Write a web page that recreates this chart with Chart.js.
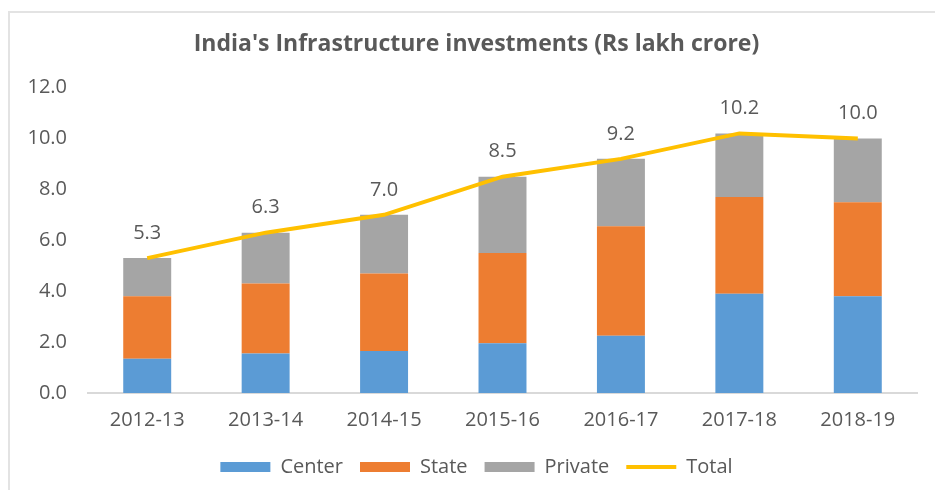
<!DOCTYPE html>
<html>
<head>
<meta charset="utf-8">
<script src="https://cdn.jsdelivr.net/npm/chart.js@4.4.1/dist/chart.umd.min.js"></script>
<style>
  html, body { margin: 0; padding: 0; background: #fff; }
  #frame {
    position: absolute; left: 8px; top: 11px; width: 940px; height: 490px;
    border-left: 2px solid #e3e3e3; border-top: 2px solid #e3e3e3;
  }
  #wrap { position: absolute; left: 0; top: 0; width: 935px; height: 490px; }
</style>
</head>
<body>
<div id="frame"></div>
<div id="wrap"><canvas id="chartInfra"></canvas></div>
<script>
// valores (Rs lakh crore)
const years = ['2012-13', '2013-14', '2014-15', '2015-16', '2016-17', '2017-18', '2018-19'];
const center = [1.35, 1.55, 1.65, 1.95, 2.25, 3.9, 3.8];
const state = [2.45, 2.75, 3.05, 3.55, 4.3, 3.8, 3.7];
const privateInv = [1.5, 2.0, 2.3, 3.0, 2.65, 2.5, 2.5];
const total = [5.3, 6.3, 7.0, 8.5, 9.2, 10.2, 10.0];
const yTicks = [0, 2, 4, 6, 8, 10, 12];

const gris = '#595959';
const fuente = '"Open Sans", Lato, sans-serif';

// etiquetas de los totales encima de la linea
const etiquetasTotal = {
    id: 'etiquetasTotal',
    beforeDraw(chart) {
        // titulo y leyenda estan un poco a la derecha del centro en el original
        if (!chart._movido) {
            if (chart.titleBlock) chart.titleBlock.left += 16;
            if (chart.legend) chart.legend.left += 16;
            chart._movido = true;
        }
    },
    afterDatasetsDraw(chart) {
        const ctx = chart.ctx;
        const meta = chart.getDatasetMeta(3);
        ctx.save();
        ctx.font = '20px ' + fuente;
        ctx.fillStyle = gris;
        ctx.textAlign = 'center';
        ctx.textBaseline = 'middle';
        meta.data.forEach((pt, i) => {
            ctx.fillText(total[i].toFixed(1), pt.x, pt.y - 25);
        });
        ctx.restore();
    }
};

function crearGrafico() {
    const ctx = document.getElementById('chartInfra').getContext('2d');

    new Chart(ctx, {
        data: {
            labels: years,
            datasets: [
                { type: 'bar', label: 'Center', data: center, backgroundColor: '#5b9bd5', stack: 'barras', order: 2 },
                { type: 'bar', label: 'State', data: state, backgroundColor: '#ed7d31', stack: 'barras', order: 2 },
                { type: 'bar', label: 'Private', data: privateInv, backgroundColor: '#a5a5a5', stack: 'barras', order: 2 },
                {
                    type: 'line', label: 'Total', data: total, borderColor: '#ffc000', backgroundColor: '#ffc000',
                    borderWidth: 4, pointRadius: 0, tension: 0, stack: 'linea', order: 1
                }
            ]
        },
        options: {
            responsive: true,
            maintainAspectRatio: false,
            animation: false,
            barPercentage: 0.405,
            categoryPercentage: 1,
            layout: { padding: { left: 20, right: 18, top: 0, bottom: 3 } },
            plugins: {
                title: {
                    display: true,
                    text: "India's Infrastructure investments (Rs lakh crore)",
                    color: gris,
                    font: { family: fuente, size: 23, weight: 'bold' },
                    padding: { top: 31, bottom: 29 }
                },
                legend: {
                    position: 'bottom',
                    labels: {
                        color: gris,
                        font: { family: fuente, size: 20 },
                        usePointStyle: true,
                        pointStyleWidth: 50,
                        boxHeight: 10,
                        padding: 17,
                        sort: (a, b) => a.datasetIndex - b.datasetIndex,
                        generateLabels(chart) {
                            const items = Chart.defaults.plugins.legend.labels.generateLabels(chart);
                            return items.map(it => {
                                if (it.datasetIndex === 3) {
                                    it.pointStyle = 'line';
                                    it.strokeStyle = '#ffc000';
                                    it.lineWidth = 4;
                                } else {
                                    it.pointStyle = 'rect';
                                    it.lineWidth = 0;
                                }
                                return it;
                            });
                        }
                    }
                },
                tooltip: { enabled: false }
            },
            scales: {
                x: {
                    stacked: true,
                    afterFit(scale) { scale.height = 47; },
                    grid: { display: false, drawTicks: false },
                    border: { color: '#d9d9d9', width: 2 },
                    ticks: { color: gris, font: { family: fuente, size: 20 }, padding: 15 }
                },
                y: {
                    stacked: true,
                    min: 0,
                    max: 12,
                    afterFit(scale) { scale.width = 68; },
                    afterBuildTicks(scale) { scale.ticks = yTicks.map(v => ({ value: v })); },
                    grid: { display: false, drawTicks: false },
                    border: { display: false },
                    ticks: {
                        color: gris,
                        font: { family: fuente, size: 20 },
                        padding: 21,
                        callback: v => Number(v).toFixed(1)
                    }
                }
            }
        },
        plugins: [etiquetasTotal]
    });
}

document.addEventListener('DOMContentLoaded', crearGrafico);
</script>
</body>
</html>
